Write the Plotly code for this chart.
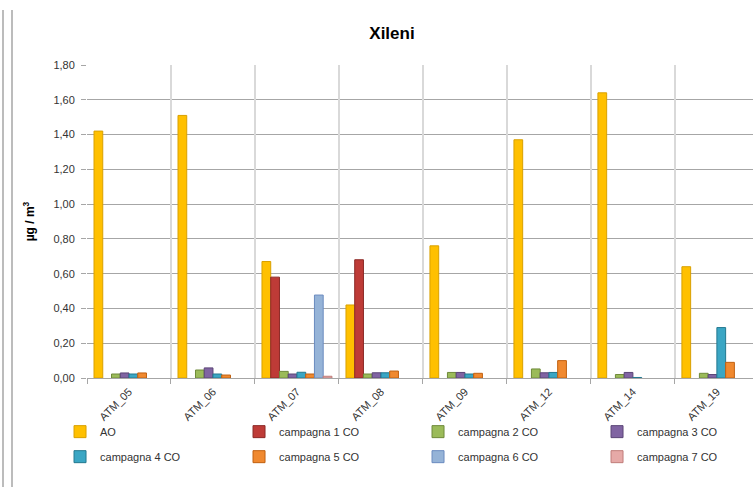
import plotly.graph_objects as go

categories = ["ATM_05", "ATM_06", "ATM_07", "ATM_08", "ATM_09", "ATM_12", "ATM_14", "ATM_19"]
series_names = ["AO", "campagna 1 CO", "campagna 2 CO", "campagna 3 CO",
                "campagna 4 CO", "campagna 5 CO", "campagna 6 CO", "campagna 7 CO"]
AO = [1.42, 1.51, 0.67, 0.42, 0.76, 1.37, 1.64, 0.64]
c1 = [None, None, 0.58, 0.68, None, None, None, None]
c2 = [0.023, 0.046, 0.038, 0.023, 0.032, 0.052, 0.020, 0.027]
c3 = [0.029, 0.058, 0.023, 0.030, 0.032, 0.030, 0.032, 0.020]
c4 = [0.023, 0.023, 0.033, 0.030, 0.023, 0.032, 0.003, 0.29]
c5 = [0.029, 0.017, 0.023, 0.040, 0.027, 0.100, None, 0.09]
c6 = [None, None, 0.477, None, None, None, None, None]
c7 = [None, None, 0.010, None, None, None, None, None]
y_ticks = [0, 0.2, 0.4, 0.6, 0.8, 1.0, 1.2, 1.4, 1.6, 1.8]

values = [AO, c1, c2, c3, c4, c5, c6, c7]
fills = ["#FFC000", "#BE3B37", "#9BBB59", "#8064A2", "#3AA6C4", "#F0892F", "#95B3D7", "#E6A9A7"]
lines = ["#D9A000", "#8C2A27", "#6F8A3A", "#5B4677", "#23788F", "#C06010", "#6A8BBF", "#C07D7A"]

FONT = "Liberation Sans, Arial, sans-serif"

fig = go.Figure()
n_cat = len(categories)
bounds = [k - 0.5 for k in range(n_cat + 1)]
x_range = [-0.5, 7.43]

# invisible helper trace so the boundary axis (category separators) is drawn
fig.add_trace(go.Scatter(x=[bounds[0], bounds[-1]], y=[0, 0], xaxis="x2", yaxis="y",
                         mode="lines", line=dict(width=0, color="rgba(0,0,0,0)"),
                         hoverinfo="skip", showlegend=False))

for i, (name, vals) in enumerate(zip(series_names, values)):
    fig.add_trace(go.Bar(
        x=categories, y=vals, name=name,
        marker=dict(color=fills[i], line=dict(color=lines[i], width=1)),
        legend="legend" if i < 4 else "legend2",
        legendwidth=80 if i % 4 == 3 else None,
    ))

legend_common = dict(
    orientation="h", xanchor="left", yanchor="top",
    entrywidth=134, entrywidthmode="pixels",
    font=dict(family=FONT, size=11, color="#333333"),
    bgcolor="rgba(0,0,0,0)", itemwidth=30, tracegroupgap=0,
)

fig.update_layout(
    width=753, height=487,
    margin=dict(l=87, r=0, t=65, b=109),
    paper_bgcolor="white", plot_bgcolor="white",
    separators=",.",
    barmode="group", bargap=0.167, bargroupgap=0,
    title=dict(text="<b>Xileni</b>", x=392 / 753, xanchor="center", y=1 - 33 / 487, yanchor="middle",
               font=dict(family=FONT, size=17, color="#000000")),
    font=dict(family=FONT, size=11, color="#333333"),
    legend=dict(x=-0.0405, y=-0.125, **legend_common),
    legend2=dict(x=-0.0405, y=-0.205, **legend_common),
    xaxis=dict(
        type="category", range=x_range, showgrid=False,
        showline=True, linecolor="#a6a6a6", linewidth=1,
        ticks="", tickangle=-45, ticklabelstandoff=2,
        tickfont=dict(family=FONT, size=11, color="#333333"),
    ),
    xaxis2=dict(
        overlaying="x", anchor="y", side="bottom", type="linear", range=x_range,
        tickvals=bounds, showticklabels=False, showgrid=True,
        gridcolor="#d9d9d9", gridwidth=2, ticks="outside", ticklen=5, tickcolor="#a6a6a6",
        zeroline=False, showline=False,
    ),
    yaxis=dict(
        range=[0, 1.8], tickvals=y_ticks, tickformat=".2f",
        showgrid=True, gridcolor="#a6a6a6", gridwidth=1,
        ticks="outside", ticklen=5, tickcolor="#a6a6a6",
        zeroline=False, showline=False,
        ticklabelstandoff=4,
        tickfont=dict(family=FONT, size=11, color="#333333"),
        title=dict(text="<b>µg / m<sup>3</sup></b>", standoff=16,
                   font=dict(family=FONT, size=12, color="#000000")),
    ),
    showlegend=True,
)

# chart frame lines at the left edge
for xp in [3, 12]:
    fig.add_shape(type="line", xref="paper", yref="paper",
                  x0=(xp - 87) / 666, x1=(xp - 87) / 666,
                  y0=(378 - 10) / 313, y1=(378 - 487) / 313,
                  line=dict(color="#a6a6a6", width=1.5))

fig.write_html("out.html")
